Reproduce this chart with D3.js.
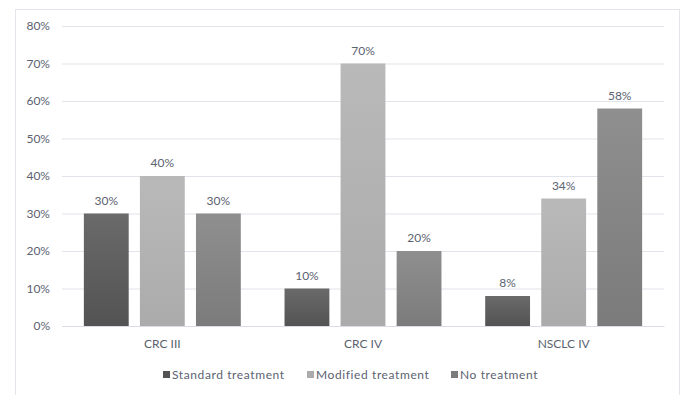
<!DOCTYPE html>
<html><head><meta charset="utf-8">
<script src="https://cdn.jsdelivr.net/npm/d3@7"></script>
<style>body{margin:0;background:#fff}svg{display:block}text{font-family:Lato,"Open Sans",sans-serif}</style>
</head><body><svg id="c" width="685" height="395"></svg>
<script>
const categories = ["CRC III", "CRC IV", "NSCLC IV"];
const series = ["Standard treatment", "Modified treatment", "No treatment"];
const standardValues = [30, 10, 8];
const modifiedValues = [40, 70, 34];
const noTreatmentValues = [30, 20, 58];
const yTicks = [0, 10, 20, 30, 40, 50, 60, 70, 80];

const values = [standardValues, modifiedValues, noTreatmentValues];
const colorsTop = ["#6a6a6a", "#b9b9b9", "#8f8f8f"];
const colorsBot = ["#535353", "#ababab", "#7b7b7b"];
const textColor = "#5b6270";

const svg = d3.select("#c");
svg.append("rect").attr("x", 15.5).attr("y", 9.5).attr("width", 664).attr("height", 400)
  .attr("fill", "#fff").attr("stroke", "#e3e5ea");

const defs = svg.append("defs");
series.forEach((s, i) => {
  const g = defs.append("linearGradient").attr("id", "g" + i).attr("x1", 0).attr("y1", 0).attr("x2", 0).attr("y2", 1);
  g.append("stop").attr("offset", "0%").attr("stop-color", colorsTop[i]);
  g.append("stop").attr("offset", "100%").attr("stop-color", colorsBot[i]);
});

const x0 = d3.scaleBand().domain(categories).range([62, 664]);
const x1 = d3.scaleBand().domain(series).range([0, x0.bandwidth()]).paddingInner(0.2).paddingOuter(0.39);
const y = d3.scaleLinear().domain([0, 80]).range([326, 26]);

const yAxis = svg.append("g").attr("transform", "translate(62,0)")
  .call(d3.axisLeft(y).tickValues(yTicks).tickFormat(d => d + "%").tickSize(-602).tickPadding(12));
yAxis.select(".domain").remove();
yAxis.selectAll("line").attr("stroke", "#e1e4ea").attr("stroke-width", 1.2);
yAxis.selectAll("text").attr("fill", textColor).attr("font-size", 12);

const xAxis = svg.append("g").attr("transform", "translate(0,326)")
  .call(d3.axisBottom(x0).tickSize(0).tickPadding(13));
xAxis.select(".domain").attr("stroke", "#dadde3");
xAxis.selectAll("text").attr("fill", textColor).attr("font-size", 12);

categories.forEach((c, ci) => {
  series.forEach((s, si) => {
    const v = values[si][ci];
    const bx = x0(c) + x1(s);
    svg.append("rect").attr("x", bx).attr("y", y(v)).attr("width", x1.bandwidth())
      .attr("height", y(0) - y(v)).attr("fill", "url(#g" + si + ")");
    svg.append("text").attr("x", bx + x1.bandwidth() / 2).attr("y", y(v) - 9)
      .attr("text-anchor", "middle").attr("fill", textColor).attr("font-size", 12).text(v + "%");
  });
});

const legendX = [163, 307, 451];
const lg = svg.append("g");
series.forEach((s, i) => {
  lg.append("rect").attr("x", legendX[i]).attr("y", 371).attr("width", 7).attr("height", 7).attr("fill", colorsBot[i]);
  lg.append("text").attr("x", legendX[i] + 9).attr("y", 379).attr("fill", textColor).attr("font-size", 12)
    .attr("letter-spacing", 0.6).text(s);
});
</script></body></html>
